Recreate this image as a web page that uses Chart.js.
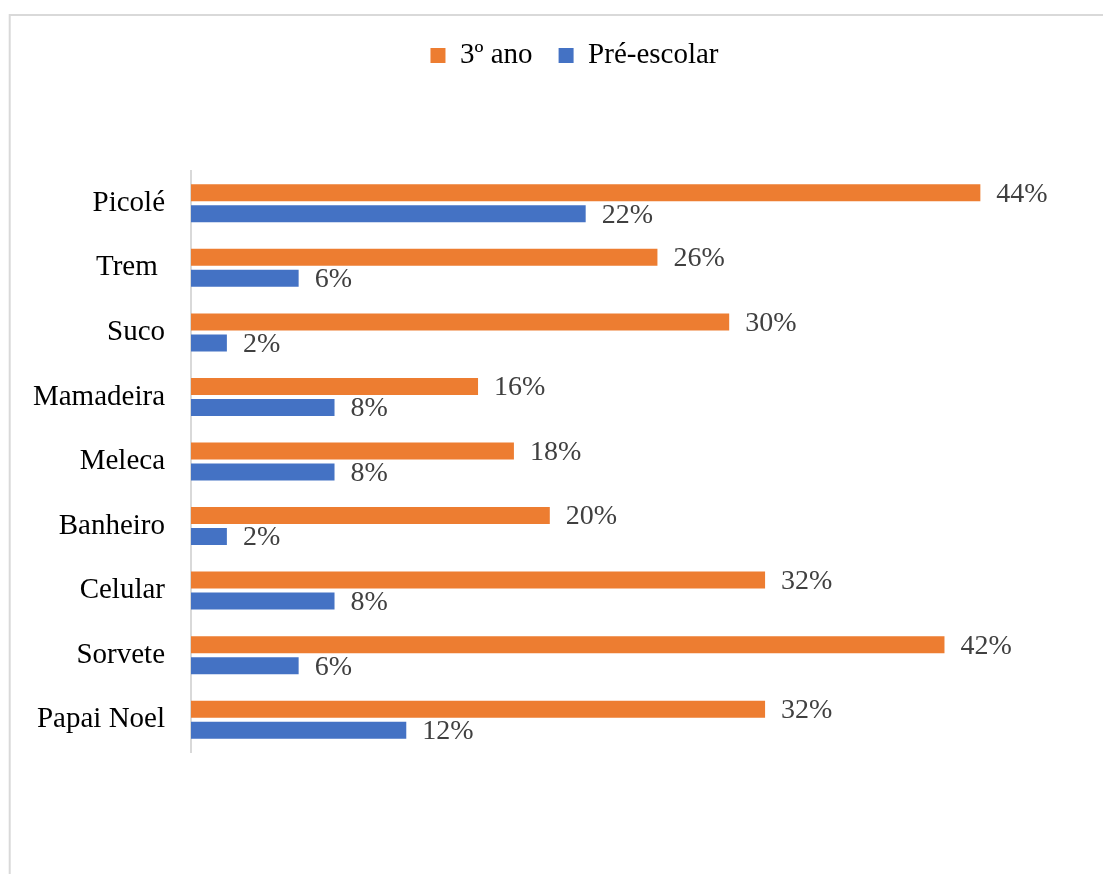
<!DOCTYPE html>
<html>
<head>
<meta charset="utf-8">
<script src="https://cdn.jsdelivr.net/npm/chart.js@4"></script>
<style>
html,body{margin:0;padding:0;background:#fff;}
#wrap{position:relative;width:1103px;height:874px;}
canvas{display:block;}
</style>
</head>
<body>
<div id="wrap"><canvas id="c" width="1103" height="874"></canvas></div>
<script>
const categories = ["Picolé", "Trem ", "Suco", "Mamadeira", "Meleca", "Banheiro", "Celular", "Sorvete", "Papai Noel"];
const seriesNames = ["3º ano", "Pré-escolar"];
const terceiroAno = [44, 26, 30, 16, 18, 20, 32, 42, 32];
const preEscolar = [22, 6, 2, 8, 8, 2, 8, 6, 12];

const FONT = "'Liberation Serif', 'Times New Roman', serif";
const LEGEND_SHIFT = 61;

const framePlugin = {
  id: 'frame',
  beforeDraw(chart) {
    const ctx = chart.ctx;
    ctx.save();
    ctx.fillStyle = '#ffffff';
    ctx.fillRect(0, 0, chart.width, chart.height);
    ctx.strokeStyle = '#d9d9d9';
    ctx.lineWidth = 2;
    ctx.strokeRect(9.7, 15, chart.width + 20, chart.height + 20);
    ctx.restore();
  }
};

const legendShift = {
  id: 'legendShift',
  afterLayout(chart) {
    if (chart.legend) { chart.legend.left += LEGEND_SHIFT; }
  }
};

const valueLabels = {
  id: 'valueLabels',
  afterDatasetsDraw(chart) {
    const ctx = chart.ctx;
    ctx.save();
    ctx.font = "28px " + FONT;
    ctx.fillStyle = '#404040';
    ctx.textAlign = 'left';
    ctx.textBaseline = 'middle';
    chart.data.datasets.forEach((ds, di) => {
      const meta = chart.getDatasetMeta(di);
      meta.data.forEach((bar, i) => {
        ctx.fillText(ds.data[i] + '%', bar.x + 16, bar.y + 1.5);
      });
    });
    ctx.restore();
  }
};

new Chart(document.getElementById('c'), {
  type: 'bar',
  data: {
    labels: categories,
    datasets: [
      { label: seriesNames[0], data: terceiroAno, backgroundColor: '#ED7D31', borderWidth: 0,
        categoryPercentage: 0.65, barPercentage: 0.81 },
      { label: seriesNames[1], data: preEscolar, backgroundColor: '#4472C4', borderWidth: 0,
        categoryPercentage: 0.65, barPercentage: 0.81 }
    ]
  },
  options: {
    indexAxis: 'y',
    responsive: false,
    animation: false,
    devicePixelRatio: 1,
    layout: { padding: { top: 15, right: 15, bottom: 122, left: 0 } },
    font: { family: FONT },
    scales: {
      x: { display: false, min: 0, max: 50 },
      y: {
        grid: { display: false, drawTicks: false },
        border: { display: true, color: '#d9d9d9', width: 2 },
        ticks: { color: '#000000', font: { family: FONT, size: 29 }, padding: 26 },
        afterFit(scale) { scale.width = 191; }
      }
    },
    plugins: {
      legend: {
        position: 'top',
        weight: 1000,
        labels: { boxWidth: 15, boxHeight: 15, padding: 26, color: '#000000',
                  font: { family: FONT, size: 29 } }
      },
      title: {
        display: true,
        position: 'top',
        weight: 500,
        text: ' ',
        font: { size: 10, lineHeight: 1 },
        padding: { top: 0, bottom: 81 }
      },
      tooltip: { enabled: false }
    }
  },
  plugins: [framePlugin, legendShift, valueLabels]
});
</script>
</body>
</html>
